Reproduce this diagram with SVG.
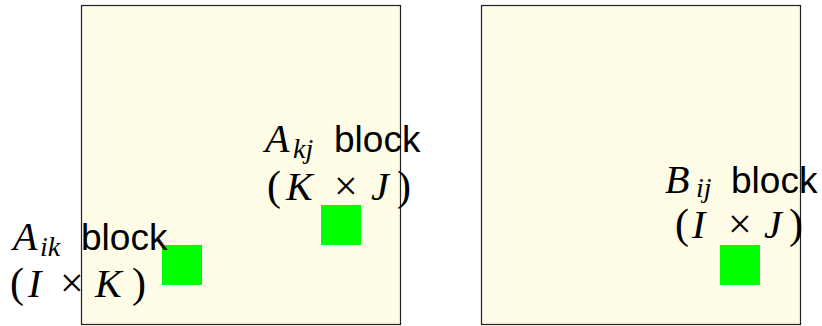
<svg xmlns="http://www.w3.org/2000/svg" width="822" height="326" viewBox="0 0 822 326">
<style>
.mat{fill:#fefbe7;stroke:#222;stroke-width:1.2}
.blk{fill:#00ff00;stroke:none}
.m{font-family:"Liberation Serif","DejaVu Serif",serif;font-style:italic;font-size:40px;fill:#000}
.s{font-family:"Liberation Serif","DejaVu Serif",serif;font-style:italic;font-size:28px;fill:#000}
.r{font-family:"Liberation Serif","DejaVu Serif",serif;font-size:42px;fill:#000}
.t{font-family:"Liberation Sans","DejaVu Sans",sans-serif;font-size:37px;fill:#000}
</style>
<g id="matrixA"><rect class="mat" x="81.5" y="5.5" width="319" height="319"/></g>
<g id="matrixB"><rect class="mat" x="481.5" y="5.5" width="319" height="319"/></g>
<g id="blockAik"><rect class="blk" x="162" y="245" width="40" height="40"/></g>
<g id="blockAkj"><rect class="blk" x="321" y="205" width="40" height="40"/></g>
<g id="blockBij"><rect class="blk" x="720" y="245" width="40" height="40"/></g>
<g id="labelAik">
<text class="m" x="13" y="250">A</text><text class="s" x="40" y="256">ik</text><text class="t" x="81" y="250">block</text>
<text class="r" x="10" y="297">(</text><text class="m" x="28" y="297">I</text><text class="r" x="60" y="297">×</text><text class="m" x="95" y="297">K</text><text class="r" x="132" y="297">)</text>
</g>
<g id="labelAkj">
<text class="m" x="265" y="152">A</text><text class="s" x="293" y="158">kj</text><text class="t" x="334" y="152">block</text>
<text class="r" x="267" y="200">(</text><text class="m" x="286" y="200">K</text><text class="r" x="334" y="200">×</text><text class="m" x="371" y="200">J</text><text class="r" x="397" y="200">)</text>
</g>
<g id="labelBij">
<text class="m" x="665" y="193">B</text><text class="s" x="696" y="197">ij</text><text class="t" x="731" y="193">block</text>
<text class="r" x="675" y="238">(</text><text class="m" x="692" y="238">I</text><text class="r" x="728" y="238">×</text><text class="m" x="764" y="238">J</text><text class="r" x="789" y="238">)</text>
</g>
</svg>
